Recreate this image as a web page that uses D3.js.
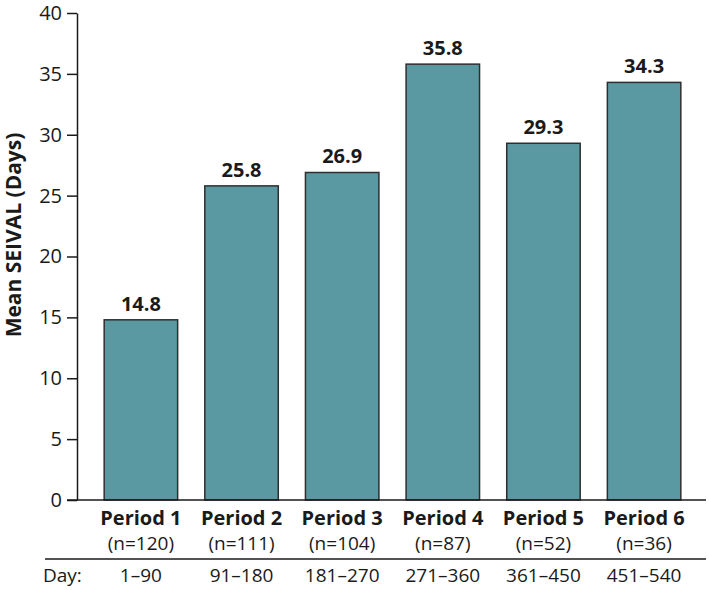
<!DOCTYPE html>
<html><head><meta charset="utf-8">
<script src="https://cdnjs.cloudflare.com/ajax/libs/d3/7.8.5/d3.min.js"></script>
<style>
body{margin:0;background:#fff;}
svg text{font-family:"Open Sans",sans-serif;fill:#1a1a1a;}
</style></head><body>
<svg id="c" width="709" height="590"></svg>
<script>
const periods = ["Period 1","Period 2","Period 3","Period 4","Period 5","Period 6"];
const nLabels = ["(n=120)","(n=111)","(n=104)","(n=87)","(n=52)","(n=36)"];
const dayRanges = ["1–90","91–180","181–270","271–360","361–450","451–540"];
const values = [14.8, 25.8, 26.9, 35.8, 29.3, 34.3];
const yTicks = [0,5,10,15,20,25,30,35,40];

const svg = d3.select("#c");
const x = d3.scaleBand().domain(periods).range([77, 708]).paddingInner(0.27).paddingOuter(0.27);
const y = d3.scaleLinear().domain([0, 40]).range([500, 13]);

// y axis
const yAxis = d3.axisLeft(y).tickValues(yTicks).tickSize(10).tickPadding(5).tickSizeOuter(0);
const ga = svg.append("g").attr("transform","translate(77,0)").call(yAxis);
ga.select(".domain").attr("stroke","#1a1a1a").attr("stroke-width",1.5);
ga.selectAll(".tick line").attr("stroke","#1a1a1a").attr("stroke-width",1.5);
ga.selectAll(".tick text").attr("font-size",20).attr("font-family","Open Sans").attr("fill","#1a1a1a");

// bars
svg.append("g").selectAll("rect").data(values).join("rect")
  .attr("x",(d,i)=>x(periods[i]))
  .attr("y",d=>y(d))
  .attr("width",x.bandwidth())
  .attr("height",d=>y(0)-y(d))
  .attr("fill","#5a98a2")
  .attr("stroke","#2e2e2e")
  .attr("stroke-width",1.5);

// value labels
svg.append("g").selectAll("text").data(values).join("text")
  .attr("x",(d,i)=>x(periods[i])+x.bandwidth()/2)
  .attr("y",d=>y(d)-9)
  .attr("text-anchor","middle")
  .attr("font-weight","bold")
  .attr("font-size",20)
  .text(d=>d.toFixed(1));

// baseline
svg.append("line").attr("x1",67).attr("x2",706).attr("y1",y(0)).attr("y2",y(0))
  .attr("stroke","#1a1a1a").attr("stroke-width",1.5);

// category labels
const cx = (i)=>x(periods[i])+x.bandwidth()/2;
svg.append("g").selectAll("text").data(periods).join("text")
  .attr("x",(d,i)=>cx(i)).attr("y",525).attr("text-anchor","middle")
  .attr("font-weight","bold").attr("font-size",20).text(d=>d);
svg.append("g").selectAll("text").data(nLabels).join("text")
  .attr("x",(d,i)=>cx(i)).attr("y",550).attr("text-anchor","middle")
  .attr("font-size",19).text(d=>d);

// separator
svg.append("line").attr("x1",45).attr("x2",706).attr("y1",559).attr("y2",559)
  .attr("stroke","#1a1a1a").attr("stroke-width",1.5);

svg.append("text").attr("x",43).attr("y",582).attr("font-size",19).text("Day:");
svg.append("g").selectAll("text").data(dayRanges).join("text")
  .attr("x",(d,i)=>cx(i)).attr("y",582).attr("text-anchor","middle")
  .attr("font-size",19).text(d=>d);

// y title
svg.append("text").attr("transform","translate(21,235) rotate(-90)")
  .attr("text-anchor","middle").attr("font-weight","bold").attr("font-size",21)
  .text("Mean SEIVAL (Days)");
</script></body></html>
